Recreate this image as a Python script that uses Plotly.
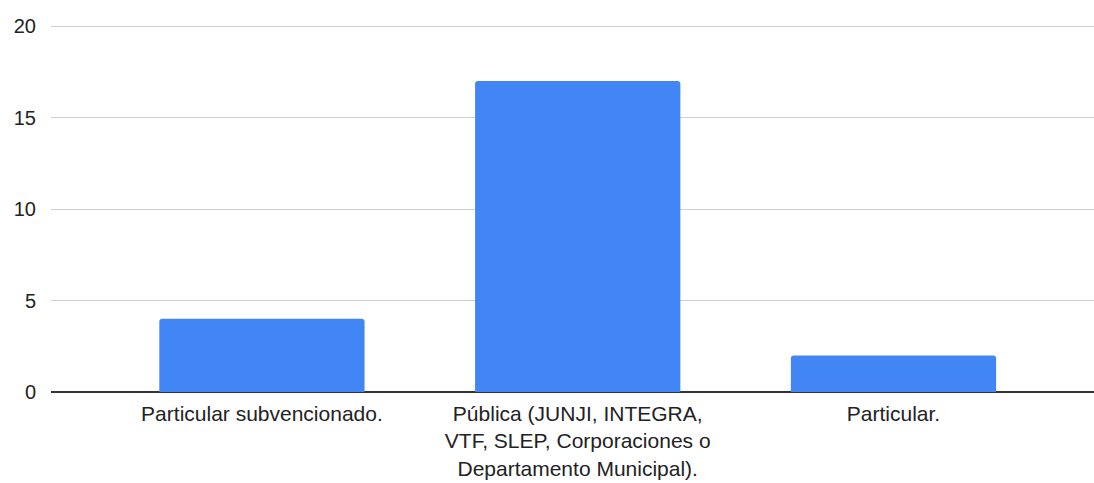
import plotly.graph_objects as go

categories = [
    "Particular subvencionado.",
    "Pública (JUNJI, INTEGRA,<br>VTF, SLEP, Corporaciones o<br>Departamento Municipal).",
    "Particular.",
]
values = [4, 17, 2]
y_ticks = [0, 5, 10, 15, 20]

fig = go.Figure(
    go.Bar(
        x=list(range(len(categories))),
        y=values,
        width=0.65,
        marker=dict(color="#4285F4", cornerradius=3, line=dict(width=0)),
        hoverinfo="skip",
    )
)

fig.update_layout(
    width=1094,
    height=483,
    margin=dict(l=51, r=0, t=17, b=91),
    paper_bgcolor="white",
    plot_bgcolor="white",
    font=dict(family="Liberation Sans, Arial, sans-serif", size=20, color="#222222"),
    showlegend=False,
)
fig.update_xaxes(
    tickmode="array",
    tickvals=list(range(len(categories))),
    ticktext=categories,
    range=[-0.668, 2.635],
    showgrid=False,
    zeroline=False,
    showline=False,
    ticks="",
    tickangle=0,
    ticklabelstandoff=7,
    tickfont=dict(size=21),
)
fig.update_yaxes(
    range=[0, 20.5],
    tickvals=y_ticks,
    showgrid=True,
    gridcolor="#d0d0d0",
    gridwidth=1,
    zeroline=True,
    zerolinecolor="#333333",
    zerolinewidth=1.5,
    ticks="",
    ticklabelstandoff=14,
)

fig.write_html(
    "out.html",
    config={"displayModeBar": False, "staticPlot": True},
    post_script="document.body.style.margin='0px';document.body.style.overflow='hidden';",
)
